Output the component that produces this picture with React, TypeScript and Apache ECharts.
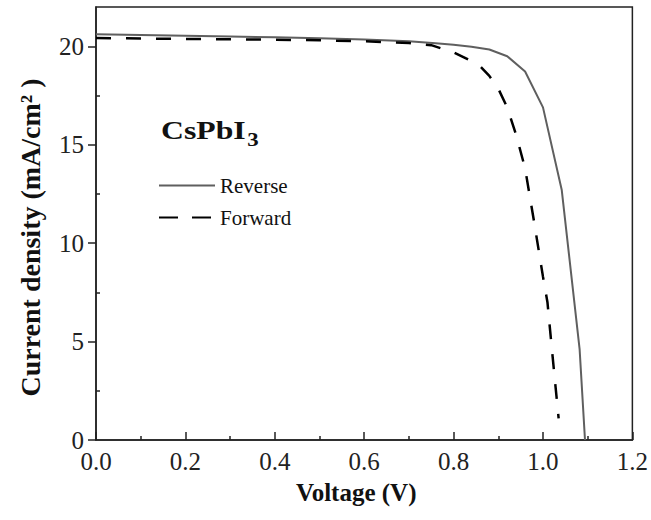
import React, { useEffect, useRef } from "react";
import * as echarts from "echarts";

const reverseV = [0, 0.1, 0.2, 0.3, 0.4, 0.5, 0.6, 0.7, 0.76, 0.8, 0.84, 0.88, 0.92, 0.96, 1.0, 1.042, 1.082, 1.094];
const reverseJ = [20.62, 20.58, 20.54, 20.5, 20.46, 20.41, 20.35, 20.26, 20.16, 20.08, 19.98, 19.84, 19.5, 18.72, 16.9, 12.7, 4.6, 0];

const forwardV = [0, 0.1, 0.2, 0.3, 0.4, 0.5, 0.6, 0.7, 0.75, 0.8, 0.84, 0.86, 0.88, 0.9, 0.92, 0.94, 0.96, 0.98, 1.0, 1.01, 1.02, 1.035];
const forwardJ = [20.42, 20.4, 20.38, 20.36, 20.34, 20.31, 20.26, 20.17, 20.06, 19.7, 19.25, 18.98, 18.5, 17.85, 16.9, 15.5, 13.8, 11.1, 8.3, 7.0, 4.6, 1.1];

const yMajorTicks = [0, 5, 10, 15, 20];
const yMinorTicks = [2.5, 7.5, 12.5, 17.5];

const seriesNames = ["Reverse", "Forward"];
const sampleLabel = "CsPbI";
const sampleSub = "3";

const FONT = "'Liberation Serif', 'Times New Roman', serif";

export default function App() {
  const ref = useRef<HTMLDivElement>(null);
  useEffect(() => {
    if (!ref.current) return;
    const chart = echarts.init(ref.current, null, { renderer: "svg" });
    const pairs = (xs: number[], ys: number[]) => xs.map((x, i) => [x, ys[i]]);
    chart.setOption({
      animation: false,
      backgroundColor: "#ffffff",
      grid: {
        left: 96,
        right: 18,
        top: 7,
        bottom: 80,
        show: true,
        borderColor: "#222",
        borderWidth: 1.5,
        backgroundColor: "transparent",
      },
      legend: {
        orient: "vertical",
        left: 158,
        top: 175,
        padding: 0,
        itemGap: 11,
        itemWidth: 56,
        itemHeight: 14,
        itemStyle: { opacity: 0, borderWidth: 0 },
        textStyle: { fontFamily: FONT, fontSize: 21, color: "#111" },
        data: [
          { name: seriesNames[0] },
          { name: seriesNames[1], lineStyle: { type: [19, 14] } },
        ],
      },
      xAxis: {
        type: "value",
        min: 0,
        max: 1.2,
        interval: 0.2,
        name: "Voltage (V)",
        nameLocation: "middle",
        nameGap: 40,
        nameTextStyle: {
          fontFamily: FONT,
          fontSize: 25,
          fontWeight: "bold",
          color: "#111",
          padding: [0, 16, 0, 0],
        },
        axisLine: { show: true, lineStyle: { color: "#222", width: 1.5 } },
        axisTick: { show: true, inside: true, length: 8, lineStyle: { color: "#222", width: 1.5 } },
        minorTick: { show: true, splitNumber: 2, length: 4, lineStyle: { color: "#222", width: 1.5 } },
        axisLabel: {
          fontFamily: FONT,
          fontSize: 25,
          color: "#222",
          margin: 9,
          formatter: (v: number) => v.toFixed(1),
        },
        splitLine: { show: false },
      },
      yAxis: [
        {
          type: "value",
          min: 0,
          max: 22,
          interval: 5,
          name: "Current density (mA/cm² )",
          nameLocation: "middle",
          nameGap: 52,
          nameTextStyle: {
            fontFamily: FONT,
            fontSize: 28,
            fontWeight: "bold",
            color: "#111",
            padding: [0, 28, 0, 0],
          },
          axisLine: { show: true, lineStyle: { color: "#222", width: 1.5 } },
          axisTick: {
            show: true,
            inside: false,
            length: 8,
            customValues: yMajorTicks,
            lineStyle: { color: "#222", width: 1.5 },
          },
          axisLabel: {
            fontFamily: FONT,
            fontSize: 25,
            color: "#222",
            margin: 12,
            customValues: yMajorTicks,
          },
          splitLine: { show: false },
        },
        {
          type: "value",
          position: "left",
          min: 0,
          max: 22,
          interval: 2.5,
          axisLine: { show: false },
          axisTick: {
            show: true,
            inside: true,
            length: 4,
            customValues: yMinorTicks,
            lineStyle: { color: "#222", width: 1.5 },
          },
          axisLabel: { show: false },
          splitLine: { show: false },
        },
      ],
      graphic: [
        {
          type: "group",
          left: 161,
          top: 118,
          scaleX: 1.27,
          children: [
            {
              type: "text",
              x: 0,
              y: 14,
              style: {
                text: sampleLabel,
                font: `bold 25px ${FONT}`,
                fill: "#111",
                verticalAlign: "middle",
              },
            },
            {
              type: "text",
              x: 68,
              y: 23,
              style: {
                text: sampleSub,
                font: `bold 18px ${FONT}`,
                fill: "#111",
                verticalAlign: "middle",
              },
            },
          ],
        },
      ],
      series: [
        {
          name: seriesNames[0],
          type: "line",
          data: pairs(reverseV, reverseJ),
          showSymbol: false,
          symbol: "none",
          lineStyle: { color: "#5f5f5f", width: 2 },
          itemStyle: { color: "#5f5f5f" },
        },
        {
          name: seriesNames[1],
          type: "line",
          data: pairs(forwardV, forwardJ),
          showSymbol: false,
          symbol: "none",
          lineStyle: { color: "#000", width: 2.5, type: [15, 15] },
          itemStyle: { color: "#000" },
        },
      ],
    });
    return () => chart.dispose();
  }, []);
  return (
    <div
      ref={ref}
      style={{ position: "fixed", left: 0, top: 0, width: 651, height: 520, background: "#fff" }}
    />
  );
}
